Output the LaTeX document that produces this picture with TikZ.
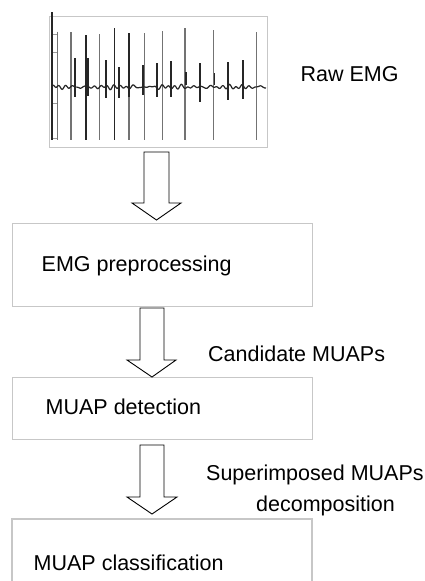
\documentclass[tikz,border=0pt]{standalone}
\usepackage{fontspec}
\setmainfont{Liberation Sans}
\begin{document}
\begin{tikzpicture}[x=1pt,y=-1pt,
  box/.style={draw=black!22,line width=1.3pt,fill=white},
  lbl/.style={anchor=base west,inner sep=0pt,font=\fontsize{21.5}{25}\selectfont},
  blockarrow/.style={draw=black,line width=0.9pt,fill=white,line join=miter},
  longspike/.style={draw=black!55,line width=1.1pt},
  darkspike/.style={draw=black!85,line width=1.6pt},
  tick/.style={draw=black!40,line width=0.8pt}]
\useasboundingbox (0,0) rectangle (425,581);
\fill[white] (0,0) rectangle (425,581);
% ---- raw EMG plot ----
\node[box,anchor=north west,minimum width=218pt,minimum height=131pt,inner sep=0pt] (plot) at (49,16) {};
\foreach \y in {34,52,103,138} \draw[tick] (52,\y) -- (58,\y);
\foreach \x/\t in {57.3/31.7,71/32,99.3/34,129/33,144.3/33,162.7/31,185/28,213.7/30,256.7/32}
  \draw[longspike] (\x,\t) -- (\x,140);
\foreach \x/\t in {85.7/35,114.3/28}
  \draw[darkspike] (\x,\t) -- (\x,140);
\draw[darkspike] (129,33) -- (129,97);
\foreach \x/\t/\b in {75/58/97,87.7/58/96,105.7/60/98,118.7/67/98,142.7/65/95,157/63/97,170.7/61/97,185.7/72/85,200/63/102,214.3/73/85,228/62/100,242.7/60/99}
  \draw[darkspike] (\x,\t) -- (\x,\b);
\draw[black!85,line width=1.2pt] plot[domain=53:266,samples=300] (\x,{87+0.9*sin(53*\x)+0.8*sin(59*\x+40)+0.7*sin(37*\x+10)+0.6*sin(23*\x+70)});
\draw[black!85,line width=1.6pt] (52,12) -- (52,140);
\node[lbl] (raw) at (300.5,81) {Raw EMG};
% ---- boxes ----
\node[box,anchor=north west,minimum width=300pt,minimum height=83pt,inner sep=0pt] (pre) at (12,223) {};
\node[lbl] (pretxt) at (41.5,271.5) {EMG preprocessing};
\node[box,anchor=north west,minimum width=300pt,minimum height=62pt,inner sep=0pt] (det) at (12,377) {};
\node[lbl] (dettxt) at (45.5,414) {MUAP detection};
\draw[box] (12,595) -- (12,519) -- (312,519) -- (312,595);
\coordinate (cls) at (162,519);
\node[lbl] (clstxt) at (33.5,570) {MUAP classification};
% ---- block arrows ----
\draw[blockarrow] (144,152) -- (169,152) -- (169,203) -- (181,203) -- (156.5,220) -- (132,203) -- (144,203) -- cycle;
\draw[blockarrow] (140,308) -- (164,308) -- (164,360) -- (176,360) -- (152,377) -- (127,360) -- (140,360) -- cycle;
\draw[blockarrow] (140,445) -- (164,445) -- (164,497) -- (177,497) -- (152,514) -- (127,497) -- (140,497) -- cycle;
% ---- side labels ----
\node[lbl] (cand) at (208,361) {Candidate MUAPs};
\node[lbl] (sup) at (206,480) {Superimposed MUAPs};
\node[lbl] (dec) at (256,511) {decomposition};
\end{tikzpicture}
\end{document}
